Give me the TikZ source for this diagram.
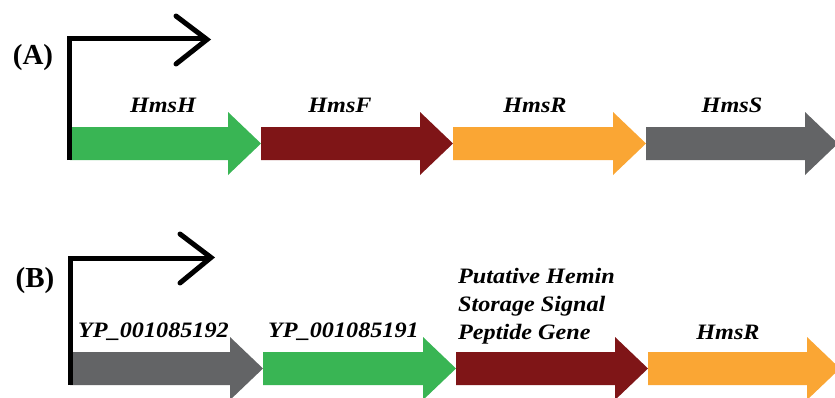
\documentclass[tikz,border=0pt]{standalone}
\usepackage{fontspec}
\setmainfont{Liberation Serif}
\newfontfamily\genefont[FakeStretch=1.1]{Liberation Serif}
\definecolor{geneGreen}{RGB}{57,181,84}
\definecolor{geneMaroon}{RGB}{127,21,23}
\definecolor{geneOrange}{RGB}{250,166,52}
\definecolor{geneGray}{RGB}{99,100,102}
\tikzset{
  genelabel/.style={font=\genefont\fontsize{22}{28}\selectfont\bfseries\itshape, inner sep=0pt, anchor=base},
  panellabel/.style={font=\fontsize{29}{34}\selectfont\bfseries, inner sep=0pt},
  promoter/.style={line width=5pt, black},
  chevron/.style={line width=5pt, black, line cap=round, line join=miter}
}
% gene arrow: #1 start x, #2 tip x, #3 centre y, #4 colour
\newcommand{\genearrow}[4]{%
  \fill[#4] (#1,#3-16.5) -- (#2-33,#3-16.5) -- (#2-33,#3-31.5) -- (#2,#3)
    -- (#2-33,#3+31.5) -- (#2-33,#3+16.5) -- (#1,#3+16.5) -- cycle;}
\begin{document}
\begin{tikzpicture}[x=1pt,y=-1pt]
\useasboundingbox (0,0) rectangle (835,397);
\clip (0,0) rectangle (835,397);
\fill[white] (0,0) rectangle (835,397);

% ---- panel A ----
\node[panellabel] (labA) at (33,58) {(A)};
\genearrow{70}{261}{143.5}{geneGreen}
\genearrow{261}{453}{143.5}{geneMaroon}
\genearrow{453}{646}{143.5}{geneOrange}
\genearrow{646}{838}{143.5}{geneGray}
\node[genelabel] (hmsH) at (163,112) {HmsH};
\node[genelabel] (hmsF) at (340,112) {HmsF};
\node[genelabel] (hmsR) at (535,112) {HmsR};
\node[genelabel] (hmsS) at (732,112) {HmsS};
\coordinate (pA0) at (69.5,160);
\coordinate (pA1) at (69.5,38.5);
\coordinate (pA2) at (206,38.5);
\draw[promoter] (pA0) -- (pA1) -- (pA2);
\draw[chevron] (176,16) -- (207,39.5) -- (176,64);

% ---- panel B ----
\node[panellabel] (labB) at (35,281) {(B)};
\genearrow{70}{263}{368.5}{geneGray}
\genearrow{263}{456}{368.5}{geneGreen}
\genearrow{456}{648}{368.5}{geneMaroon}
\genearrow{648}{840}{368.5}{geneOrange}
\node[genelabel, anchor=base west] (yp92) at (78,337) {YP\_001085192};
\node[genelabel, anchor=base west] (yp91) at (268,337) {YP\_001085191};
\node[genelabel, anchor=base west] (put1) at (458,283) {Putative Hemin};
\node[genelabel, anchor=base west] (put2) at (458,311) {Storage Signal};
\node[genelabel, anchor=base west] (put3) at (458,339) {Peptide Gene};
\node[genelabel] (hmsRb) at (728,339) {HmsR};
\coordinate (pB0) at (70.5,385);
\coordinate (pB1) at (70.5,258);
\coordinate (pB2) at (210,258);
\draw[promoter] (pB0) -- (pB1) -- (pB2);
\draw[chevron] (180,234) -- (211,257.5) -- (180,283);
\end{tikzpicture}
\end{document}
